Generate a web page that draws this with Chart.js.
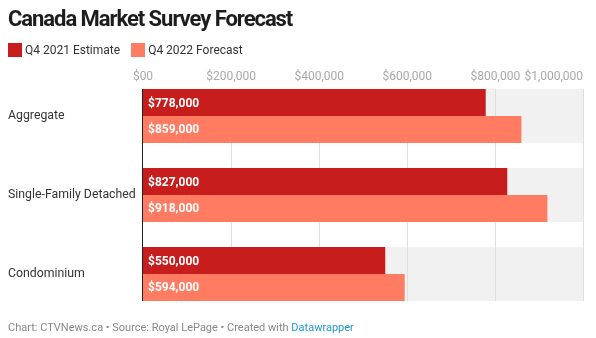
<!DOCTYPE html>
<html lang="en">
<head>
  <meta charset="UTF-8" />
  <title>Canada Market Survey Forecast</title>
  <script src="https://cdn.jsdelivr.net/npm/chart.js"></script>
  <style>
    body { margin: 0; background: #fff; font-family: Roboto, sans-serif; }
    #wrap { position: relative; width: 596px; height: 338px; overflow: hidden; }
    #wrap canvas { position: absolute; left: 0; top: 0; }
    h1 { position: absolute; left: 8px; top: 8px; margin: 0; font-size: 22px; line-height: 1; font-weight: bold; letter-spacing: -1.05px; color: #1d1d1d; }
    #legend { position: absolute; left: 8px; top: 43px; display: flex; font-size: 12px; line-height: 14px; color: #333; }
    #legend .item { display: flex; align-items: center; margin-right: 11px; }
    #legend .box { width: 14px; height: 14px; margin-right: 3px; }
    .footer { position: absolute; left: 8px; top: 322px; font-size: 11px; line-height: 1; color: #888; }
    .footer span { color: #1d97c9; }
  </style>
</head>
<body>
<div id="wrap">
  <canvas id="surveyChart"></canvas>
  <h1>Canada Market Survey Forecast</h1>
  <div id="legend"></div>
  <div class="footer">Chart: CTVNews.ca • Source: Royal LePage • Created with <span>Datawrapper</span></div>
</div>

<script>
const categories = ["Aggregate", "Single-Family Detached", "Condominium"];
const seriesNames = ["Q4 2021 Estimate", "Q4 2022 Forecast"];
const estimate2021 = [778000, 827000, 550000];
const forecast2022 = [859000, 918000, 594000];
const seriesColors = ["#c71e1d", "#ff7b61"];
const xTickLabels = ["$00", "$200,000", "$400,000", "$600,000", "$800,000", "$1,000,000"];

// legend
const legendDiv = document.getElementById('legend');
seriesNames.forEach((name, i) => {
  const item = document.createElement('div');
  item.className = 'item';
  item.innerHTML = `<span class="box" style="background:${seriesColors[i]}"></span>${name}`;
  legendDiv.appendChild(item);
});

// last tick label sits right-aligned on its gridline
function padRight(label) {
  const m = document.createElement('canvas').getContext('2d');
  m.font = '12px Roboto';
  const n = Math.round(m.measureText(label).width / m.measureText(' ').width);
  return label + ' '.repeat(n);
}

function money(v) {
  return '$' + v.toLocaleString('en-US');
}

const bandPlugin = {
  id: 'bands',
  beforeDatasetsDraw(chart) {
    const ctx = chart.ctx;
    const x = chart.scales.x;
    const metas = chart.data.datasets.map((d, i) => chart.getDatasetMeta(i));
    const bands = categories.map((c, i) => {
      const bars = metas.map(m => m.data[i]);
      return {
        top: Math.min(...bars.map(b => b.y - b.height / 2)),
        bottom: Math.max(...bars.map(b => b.y + b.height / 2))
      };
    });
    const left = x.getPixelForValue(x.min);
    const right = x.getPixelForValue(x.max);
    const top = bands[0].top;
    const bottom = bands[bands.length - 1].bottom;

    ctx.save();
    ctx.fillStyle = '#f1f1f1';
    bands.forEach(b => ctx.fillRect(left, b.top, right - left, b.bottom - b.top));

    ctx.fillStyle = '#dfdfdf';
    x.ticks.forEach(t => {
      if (t.value === 0) return;
      const px = Math.floor(x.getPixelForValue(t.value));
      ctx.fillRect(px, top, 1, bottom - top);
    });
    ctx.fillStyle = '#222';
    ctx.fillRect(Math.floor(left) - 1, top, 1, bottom - top);
    ctx.restore();
  },
  afterDatasetsDraw(chart) {
    const ctx = chart.ctx;
    ctx.save();
    ctx.font = 'bold 12px Roboto';
    ctx.fillStyle = '#fff';
    ctx.textBaseline = 'middle';
    ctx.textAlign = 'left';
    chart.data.datasets.forEach((ds, di) => {
      chart.getDatasetMeta(di).data.forEach((bar, i) => {
        ctx.fillText(money(ds.data[i]), bar.base + 5, bar.y + 1);
      });
    });
    ctx.restore();
  }
};

const ctx = document.getElementById('surveyChart').getContext('2d');

new Chart(ctx, {
  type: 'bar',
  data: {
    labels: categories,
    datasets: [
      { label: seriesNames[0], data: estimate2021, backgroundColor: seriesColors[0] },
      { label: seriesNames[1], data: forecast2022, backgroundColor: seriesColors[1] }
    ]
  },
  options: {
    indexAxis: 'y',
    responsive: true,
    maintainAspectRatio: false,
    animation: false,
    datasets: {
      bar: { categoryPercentage: 0.6835, barPercentage: 1, borderWidth: 0 }
    },
    layout: {
      padding: { top: 66.5, left: 8, right: 12.5, bottom: 24.5 }
    },
    scales: {
      x: {
        position: 'top',
        min: 0,
        max: 1000000,
        grid: { display: false },
        border: { display: false },
        ticks: {
          stepSize: 200000,
          mirror: true,
          padding: -7.2,
          color: '#a8a8a8',
          font: { family: 'Roboto', size: 12 },
          maxRotation: 0,
          autoSkip: false,
          callback: (value, index, ticks) =>
            index === ticks.length - 1 ? padRight(xTickLabels[index]) : xTickLabels[index]
        },
        afterFit(scale) {
          scale.height = 10;
          scale.paddingLeft = 0;
          scale.paddingRight = 0;
        }
      },
      y: {
        offset: true,
        grid: { display: false },
        border: { display: false },
        ticks: {
          crossAlign: 'far',
          color: '#333',
          font: { family: 'Roboto', size: 12.3 }
        },
        afterFit(scale) {
          scale.width = 135;
        }
      }
    },
    plugins: {
      legend: { display: false },
      tooltip: { enabled: false }
    }
  },
  plugins: [bandPlugin]
});
</script>
</body>
</html>
